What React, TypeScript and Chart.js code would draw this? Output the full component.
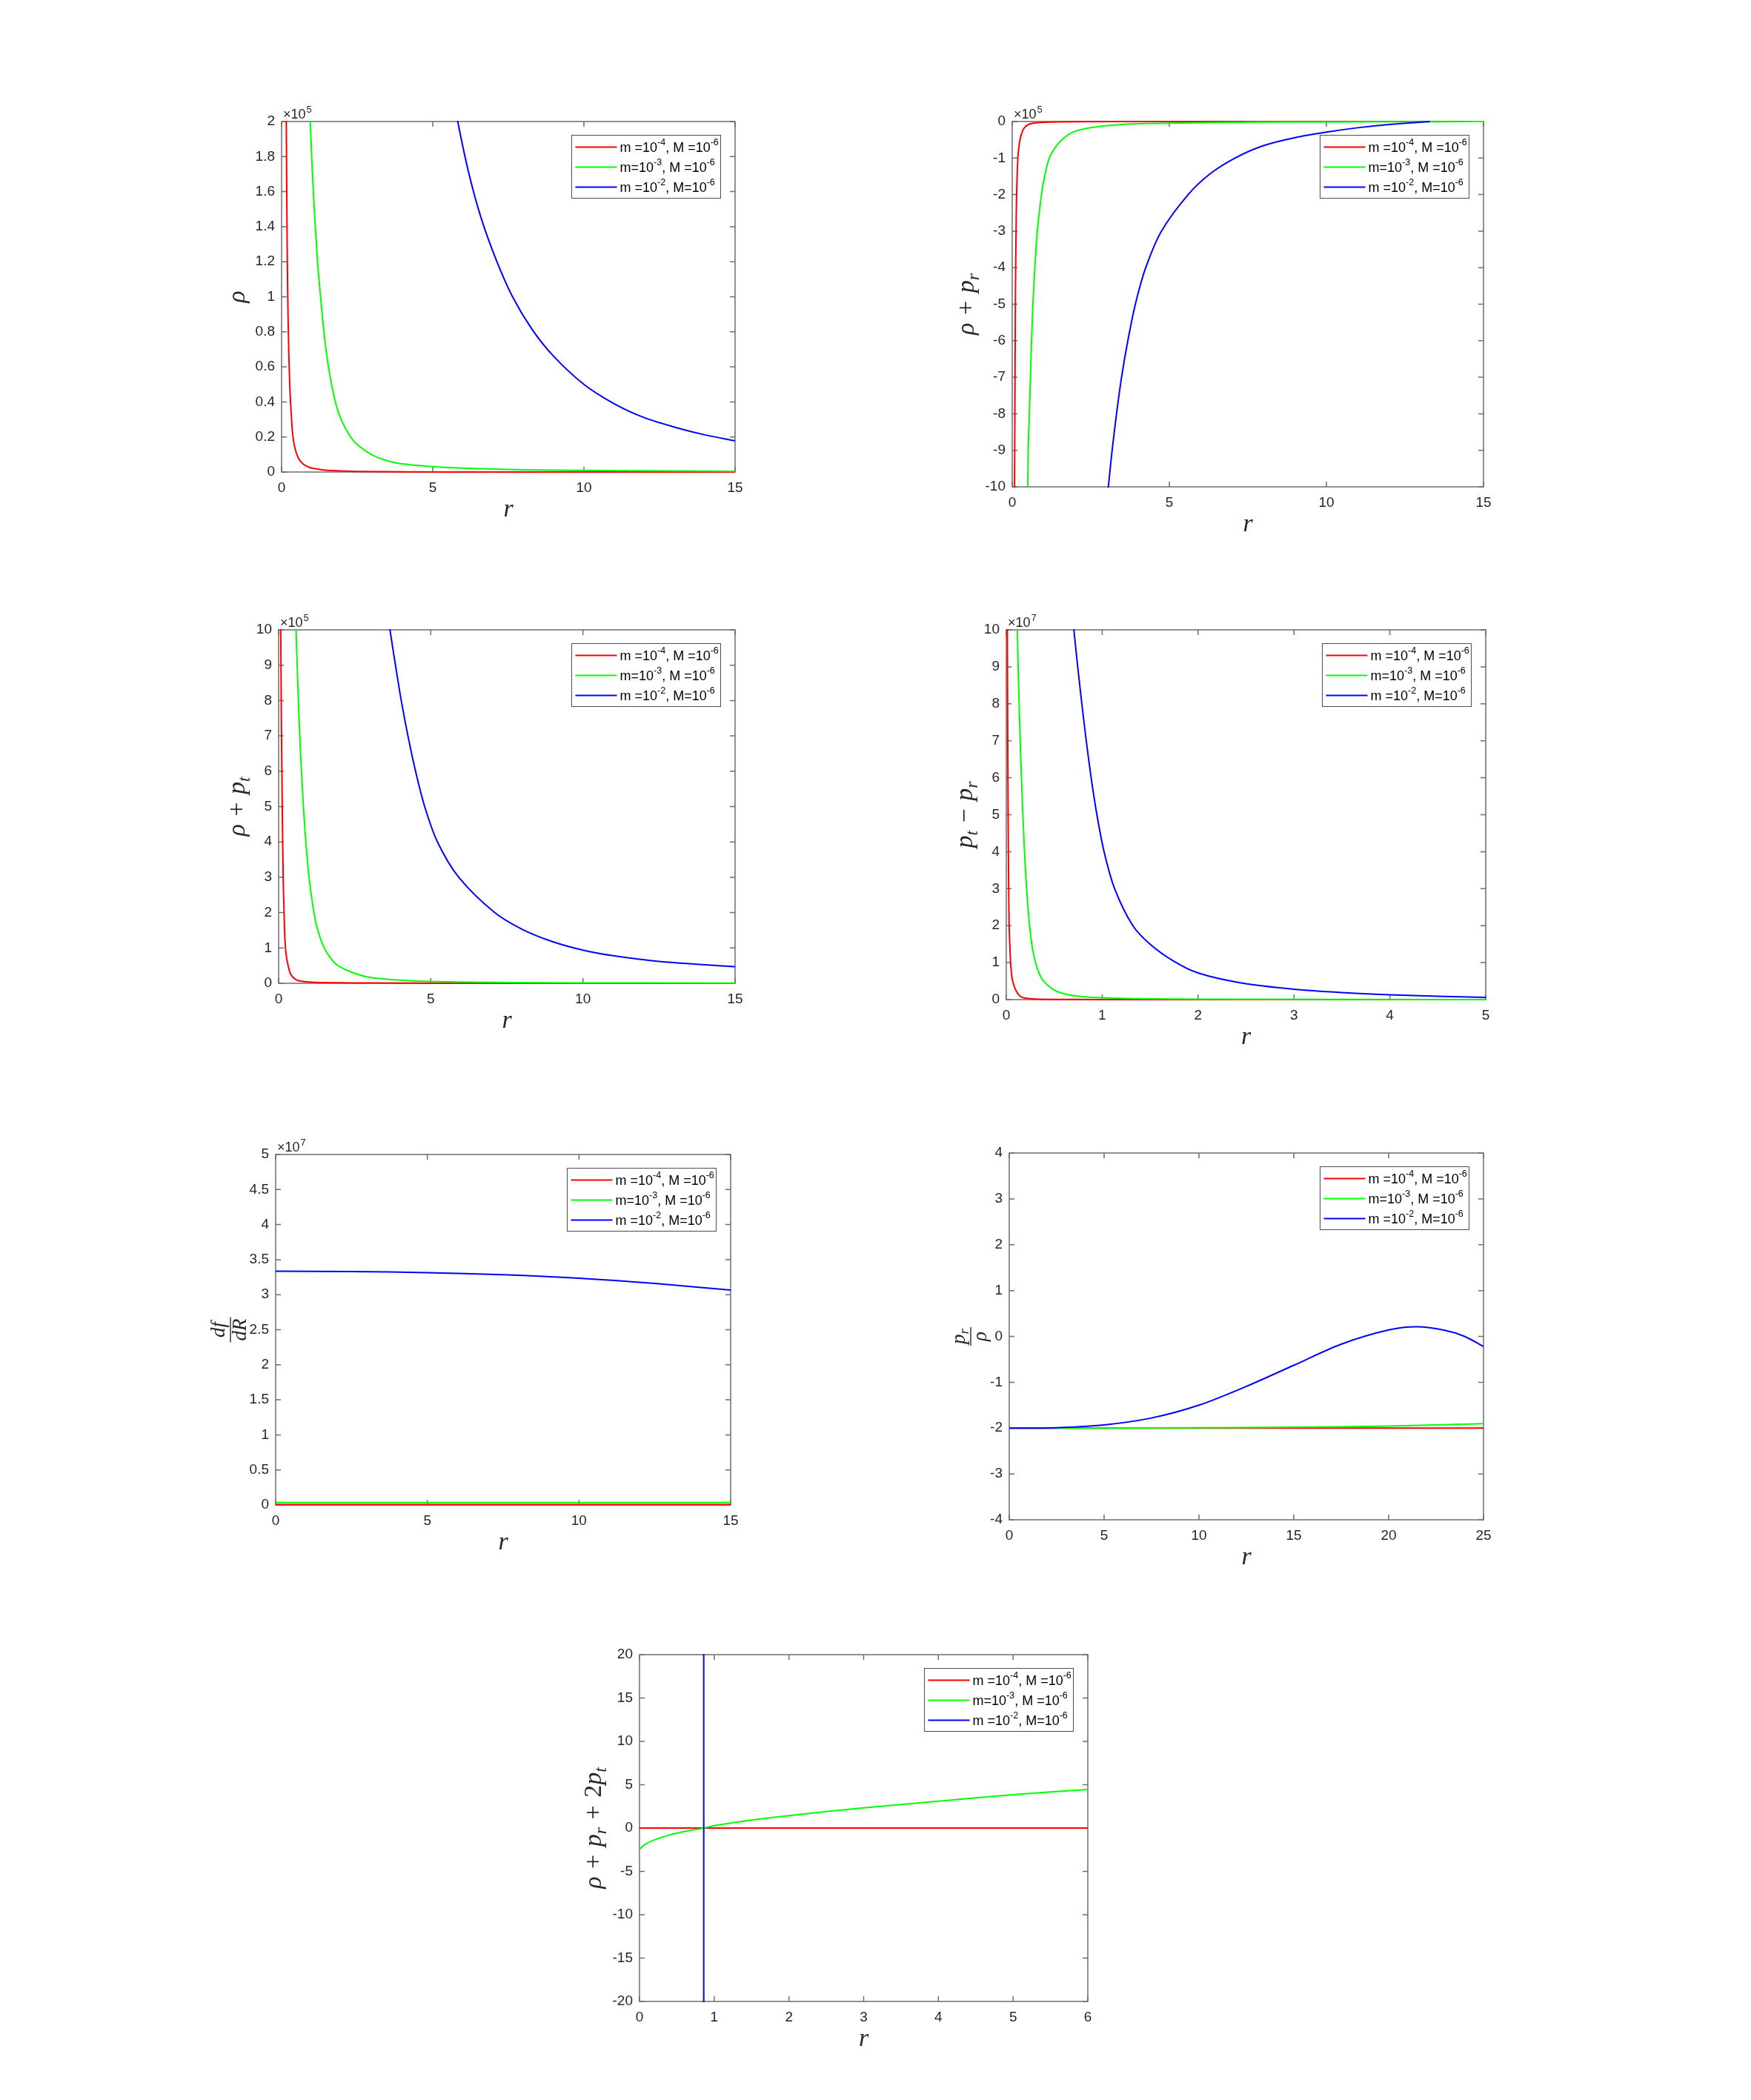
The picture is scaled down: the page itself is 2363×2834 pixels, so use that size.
import { useEffect, useRef } from 'react'
import { Chart, registerables } from 'chart.js'

Chart.register(...registerables)

type Pt = [number, number]

// ---- values (x = r, y in the axis' scaled units) ----

// rho (x10^5)
const rhoRed: Pt[] = [[0.12, 3.0], [0.155, 2.0], [0.18, 1.4], [0.2, 1.05], [0.23, 0.75], [0.27, 0.5], [0.32, 0.33], [0.37, 0.21], [0.45, 0.13], [0.57, 0.075], [0.7, 0.048], [0.87, 0.03], [1.0, 0.022], [1.34, 0.013], [1.7, 0.008], [2.5, 0.003], [4, 0.001], [7, 0.0003], [15, 0.0001]]
const rhoGreen: Pt[] = [[0.88, 2.5], [0.95, 2.0], [1.05, 1.6], [1.19, 1.2], [1.29, 1.0], [1.4, 0.8], [1.55, 0.6], [1.78, 0.4], [1.97, 0.3], [2.28, 0.2], [2.55, 0.15], [2.97, 0.1], [3.4, 0.07], [3.85, 0.05], [5, 0.031], [6, 0.022], [7, 0.017], [8, 0.013], [10, 0.009], [12.5, 0.006], [15, 0.004]]
const rhoBlue: Pt[] = [[5.5, 2.31], [5.85, 1.98], [6.2, 1.7], [6.6, 1.45], [7.1, 1.21], [7.64, 1.0], [8.3, 0.81], [9, 0.66], [10, 0.5], [11, 0.39], [12, 0.31], [13, 0.256], [14, 0.212], [15, 0.178]]

// rho + p_r (x10^5)
const rprRed: Pt[] = [[0.06, -12], [0.08, -9], [0.1, -5], [0.12, -3.2], [0.14, -2], [0.18, -1], [0.22, -0.65], [0.26, -0.45], [0.32, -0.28], [0.38, -0.18], [0.5, -0.09], [0.7, -0.04], [1.0, -0.02], [2, -0.005], [5, -0.001], [15, 0]]
const rprGreen: Pt[] = [[0.48, -11], [0.51, -9], [0.545, -8], [0.58, -7], [0.615, -6], [0.66, -5], [0.72, -4], [0.8, -3], [0.93, -2], [1.03, -1.5], [1.18, -1], [1.38, -0.7], [1.58, -0.5], [1.9, -0.3], [2.3, -0.2], [2.9, -0.12], [3.5, -0.08], [4.2, -0.058], [5, -0.045], [6.5, -0.025], [9, -0.012], [12, -0.005], [15, -0.002]]
const rprBlue: Pt[] = [[2.95, -11], [3.06, -10], [3.18, -9], [3.32, -8], [3.48, -7], [3.68, -6], [3.92, -5], [4.25, -4], [4.75, -3], [5.6, -2], [6.3, -1.43], [7.09, -1], [8, -0.66], [9, -0.44], [10, -0.29], [11, -0.17], [12, -0.08], [13.3, 0]]

// rho + p_t (x10^5)
const rptRed: Pt[] = [[0.05, 12], [0.07, 10], [0.09, 7.5], [0.12, 5], [0.15, 3], [0.18, 2], [0.21, 1.2], [0.25, 0.8], [0.3, 0.55], [0.4, 0.25], [0.57, 0.1], [0.8, 0.05], [1.2, 0.025], [3, 0.008], [6, 0.002], [15, 0.0005]]
const rptGreen: Pt[] = [[0.54, 11], [0.575, 10], [0.61, 9], [0.65, 8], [0.695, 7], [0.75, 6], [0.815, 5], [0.895, 4], [1.0, 3], [1.16, 2], [1.29, 1.5], [1.5, 1], [1.72, 0.7], [1.95, 0.5], [2.45, 0.3], [3, 0.17], [4, 0.09], [5, 0.05], [7, 0.025], [10, 0.012], [15, 0.005]]
const rptBlue: Pt[] = [[3.5, 11], [3.66, 10], [3.84, 9], [4.03, 8], [4.25, 7], [4.5, 6], [4.8, 5], [5.22, 4], [5.92, 3], [7.1, 2], [8, 1.53], [9, 1.18], [10, 0.94], [11, 0.78], [12.5, 0.62], [15, 0.47]]

// p_t - p_r (x10^7)
const ptrRed: Pt[] = [[0.008, 12], [0.011, 10], [0.015, 7], [0.019, 5], [0.024, 3.2], [0.03, 2], [0.038, 1.4], [0.045, 1], [0.055, 0.7], [0.067, 0.5], [0.1, 0.25], [0.15, 0.08], [0.2, 0.04], [0.3, 0.015], [0.5, 0.006], [1, 0.002], [5, 0]]
const ptrGreen: Pt[] = [[0.106, 11], [0.115, 10], [0.124, 9], [0.134, 8], [0.145, 7], [0.158, 6], [0.173, 5], [0.19, 4], [0.212, 3], [0.243, 2], [0.272, 1.4], [0.305, 1], [0.345, 0.7], [0.39, 0.5], [0.5, 0.26], [0.65, 0.13], [0.8, 0.08], [1, 0.05], [1.5, 0.02], [2, 0.01], [5, 0.002]]
const ptrBlue: Pt[] = [[0.67, 11], [0.705, 10], [0.745, 9], [0.788, 8], [0.834, 7], [0.885, 6], [0.945, 5], [1.02, 4], [1.13, 3], [1.32, 2], [1.5, 1.5], [1.74, 1.05], [2.0, 0.72], [2.45, 0.45], [3, 0.28], [3.5, 0.19], [4, 0.13], [4.5, 0.09], [5, 0.06]]

// df/dR (x10^7)
const dfRed: Pt[] = [[0, 0.005], [5, 0.005], [10, 0.005], [15, 0.005]]
const dfGreen: Pt[] = [[0, 0.035], [5, 0.035], [10, 0.035], [15, 0.035]]
const dfBlue: Pt[] = [[0, 3.335], [2.5, 3.33], [5, 3.315], [7.5, 3.285], [10, 3.235], [12.5, 3.16], [15, 3.065]]

// p_r / rho
const wRed: Pt[] = [[0, -2], [12.5, -2], [25, -2]]
const wGreen: Pt[] = [[0, -2], [5, -1.998], [10, -1.99], [15, -1.98], [20, -1.955], [25, -1.905]]
const wBlue: Pt[] = [[0, -2], [2.5, -1.99], [5, -1.93], [7.5, -1.78], [10, -1.5], [12.5, -1.09], [15, -0.63], [17.5, -0.17], [20, 0.14], [21.5, 0.21], [23, 0.13], [24, 0.0], [25, -0.22]]

// rho + p_r + 2 p_t
const secRed: Pt[] = [[0, 0], [3, 0], [6, 0]]
const secGreen: Pt[] = [[0, -2.45], [0.05, -2.05], [0.1, -1.77], [0.2, -1.36], [0.4, -0.8], [0.6, -0.4], [0.86, 0], [1, 0.27], [1.5, 0.92], [2, 1.44], [3, 2.32], [4, 3.1], [5, 3.85], [6, 4.45]]
const secBlue: Pt[] = [[0.86, -25], [0.86, 25]]

const legendRows = [
  { a: 'm =10', e1: '-4', b: ', M =10', e2: '-6' },
  { a: 'm=10', e1: '-3', b: ', M =10', e2: '-6' },
  { a: 'm =10', e1: '-2', b: ', M=10', e2: '-6' },
]

const COLORS = ['#ff0000', '#00ff00', '#0000ff']
const AXIS = '#6e6e6e'
const TEXT = '#262626'
const SANS = '"Liberation Sans", Arial, sans-serif'
const SERIF = '"Liberation Serif", "Times New Roman", serif'

type Seg = { t: string; it?: boolean; sub?: boolean; op?: boolean }
type Label = { segs: Seg[] } | { num: Seg[]; den: Seg[] }

interface Panel {
  box: [number, number, number, number]
  x: [number, number, number]
  y: [number, number, number]
  series: Pt[][]
  exp?: string
  ylabel: Label
  yOff: number
  ySize: number
  straight?: boolean[]
}

const rho: Seg = { t: 'ρ', it: true }
const p: Seg = { t: 'p', it: true }
const subR: Seg = { t: 'r', it: true, sub: true }
const subT: Seg = { t: 't', it: true, sub: true }
const plus: Seg = { t: '+', op: true }
const minus: Seg = { t: '−', op: true }

const panels: Panel[] = [
  { box: [380, 164, 992, 637], x: [0, 15, 5], y: [0, 2, 0.2], series: [rhoRed, rhoGreen, rhoBlue], exp: '5',
    ylabel: { segs: [rho] }, yOff: 50, ySize: 34 },
  { box: [1366, 164, 2002, 657], x: [0, 15, 5], y: [-10, 0, 1], series: [rprRed, rprGreen, rprBlue], exp: '5',
    ylabel: { segs: [rho, plus, p, subR] }, yOff: 52, ySize: 34 },
  { box: [376, 850, 992, 1327], x: [0, 15, 5], y: [0, 10, 1], series: [rptRed, rptGreen, rptBlue], exp: '5',
    ylabel: { segs: [rho, plus, p, subT] }, yOff: 46, ySize: 34 },
  { box: [1358, 850, 2005, 1349], x: [0, 5, 1], y: [0, 10, 1], series: [ptrRed, ptrGreen, ptrBlue], exp: '7',
    ylabel: { segs: [p, subT, minus, p, subR] }, yOff: 46, ySize: 34 },
  { box: [372, 1558, 986, 2031], x: [0, 15, 5], y: [0, 5, 0.5], series: [dfRed, dfGreen, dfBlue], exp: '7',
    ylabel: { num: [{ t: 'df', it: true }], den: [{ t: 'dR', it: true }] }, yOff: 61, ySize: 27 },
  { box: [1362, 1556, 2002, 2051], x: [0, 25, 5], y: [-4, 4, 1], series: [wRed, wGreen, wBlue],
    ylabel: { num: [p, subR], den: [rho] }, yOff: 52, ySize: 27 },
  { box: [863, 2233, 1468, 2701], x: [0, 6, 1], y: [-20, 20, 5], series: [secRed, secGreen, secBlue], straight: [false, false, true],
    ylabel: { segs: [rho, plus, p, subR, plus, { t: '2' }, p, subT] }, yOff: 52, ySize: 34 },
]

const PAD_L = 110
const PAD_T = 40
const PAD_R = 30
const PAD_B = 80

function segFont(s: Seg, size: number) {
  const sz = s.sub ? size * 0.7 : size
  return `${s.it ? 'italic ' : ''}${sz}px ${SERIF}`
}

function segWidth(ctx: CanvasRenderingContext2D, s: Seg, size: number) {
  ctx.font = segFont(s, size)
  return ctx.measureText(s.t).width + (s.op ? size * 0.62 : 0)
}

function segsWidth(ctx: CanvasRenderingContext2D, segs: Seg[], size: number) {
  return segs.reduce((w, s) => w + segWidth(ctx, s, size), 0)
}

function drawSegs(ctx: CanvasRenderingContext2D, segs: Seg[], x: number, y: number, size: number) {
  let cx = x
  for (const s of segs) {
    const w = segWidth(ctx, s, size)
    ctx.font = segFont(s, size)
    ctx.fillText(s.t, cx + (s.op ? size * 0.31 : 0), y + (s.sub ? size * 0.2 : 0))
    cx += w
  }
}

function makeFrame(pn: Panel) {
  return {
    id: 'matlabFrame',
    beforeDatasetsDraw(chart: any) {
      const { ctx, chartArea: a, scales } = chart
      const tick = 7
      ctx.save()
      ctx.strokeStyle = AXIS
      ctx.lineWidth = 1.5
      ctx.strokeRect(a.left, a.top, a.right - a.left, a.bottom - a.top)
      ctx.beginPath()
      for (const t of scales.x.ticks) {
        const px = scales.x.getPixelForValue(t.value)
        ctx.moveTo(px, a.bottom); ctx.lineTo(px, a.bottom - tick)
        ctx.moveTo(px, a.top); ctx.lineTo(px, a.top + tick)
      }
      for (const t of scales.y.ticks) {
        const py = scales.y.getPixelForValue(t.value)
        ctx.moveTo(a.left, py); ctx.lineTo(a.left + tick, py)
        ctx.moveTo(a.right, py); ctx.lineTo(a.right - tick, py)
      }
      ctx.stroke()
      ctx.restore()
    },
    afterDatasetsDraw(chart: any) {
      const { ctx, chartArea: a } = chart
      const bw = 201
      const bh = 85
      const bx = a.right - 19.5 - bw
      const by = a.top + 18.5
      ctx.save()
      ctx.fillStyle = '#ffffff'
      ctx.fillRect(bx, by, bw, bh)
      ctx.strokeStyle = '#4d4d4d'
      ctx.lineWidth = 1
      ctx.strokeRect(bx, by, bw, bh)
      legendRows.forEach((row, i) => {
        const cy = by + 16 + i * 27
        ctx.strokeStyle = COLORS[i]
        ctx.lineWidth = 2
        ctx.beginPath()
        ctx.moveTo(bx + 5, cy)
        ctx.lineTo(bx + 61, cy)
        ctx.stroke()
        ctx.fillStyle = '#000000'
        ctx.textBaseline = 'alphabetic'
        ctx.textAlign = 'left'
        const base = cy + 6.5
        let x = bx + 65
        const parts: [string, boolean][] = [[row.a, false], [row.e1, true], [row.b, false], [row.e2, true]]
        for (const [txt, sup] of parts) {
          ctx.font = `${sup ? 12.5 : 18}px ${SANS}`
          ctx.fillText(txt, x, sup ? base - 9 : base)
          x += ctx.measureText(txt).width
        }
      })
      ctx.restore()
    },
    afterDraw(chart: any) {
      const { ctx, chartArea: a } = chart
      ctx.save()
      ctx.fillStyle = TEXT
      ctx.textBaseline = 'alphabetic'
      ctx.textAlign = 'left'

      // x label
      ctx.font = `italic 34px ${SERIF}`
      const rw = ctx.measureText('r').width
      ctx.fillText('r', (a.left + a.right) / 2 - rw / 2, a.bottom + 60)

      // exponent
      if (pn.exp) {
        ctx.font = `18px ${SANS}`
        const bx = a.left + 2
        const by = a.top - 4
        ctx.fillText('×10', bx, by)
        const w = ctx.measureText('×10').width
        ctx.font = `13px ${SANS}`
        ctx.fillText(pn.exp, bx + w + 1, by - 8.5)
      }

      // y label, rotated
      const size = pn.ySize
      ctx.translate(a.left - pn.yOff, (a.top + a.bottom) / 2)
      ctx.rotate(-Math.PI / 2)
      const lab = pn.ylabel
      if ('num' in lab) {
        const wn = segsWidth(ctx, lab.num, size)
        const wd = segsWidth(ctx, lab.den, size)
        const w = Math.max(wn, wd) + size * 0.15
        ctx.fillRect(-w / 2, -0.7, w, 1.4)
        drawSegs(ctx, lab.num, -wn / 2, -0.3 * size, size)
        drawSegs(ctx, lab.den, -wd / 2, 0.78 * size, size)
      } else {
        const w = segsWidth(ctx, lab.segs, size)
        drawSegs(ctx, lab.segs, -w / 2, 0, size)
      }
      ctx.restore()
    },
  }
}

function fmt(v: number | string) {
  const n = Number(v)
  return String(Math.round(n * 100) / 100)
}

function PanelChart({ pn }: { pn: Panel }) {
  const ref = useRef<HTMLCanvasElement>(null)
  const [L, T, R, B] = pn.box
  const width = R - L + PAD_L + PAD_R
  const height = B - T + PAD_T + PAD_B

  useEffect(() => {
    if (!ref.current) return
    const tickFont = { family: SANS, size: 19 }
    const chart = new Chart(ref.current, {
      type: 'line',
      data: {
        datasets: pn.series.map((s, i) => ({
          data: s.map(([x, y]) => ({ x, y })),
          borderColor: COLORS[i],
          borderWidth: 2,
          pointRadius: 0,
          fill: false,
          order: 2 - i,
          clip: 1,
          tension: pn.straight && pn.straight[i] ? 0 : 0.3,
          capBezierPoints: false,
        })),
      },
      options: {
        animation: false,
        responsive: false,
        maintainAspectRatio: false,
        devicePixelRatio: 1,
        events: [],
        layout: { padding: { left: 0, top: PAD_T, right: PAD_R, bottom: 0 } },
        plugins: { legend: { display: false }, tooltip: { enabled: false } },
        scales: {
          x: {
            type: 'linear',
            min: pn.x[0],
            max: pn.x[1],
            ticks: { stepSize: pn.x[2], autoSkip: false, maxRotation: 0, font: tickFont, color: TEXT, padding: 10, callback: fmt },
            grid: { display: false, drawTicks: false },
            border: { display: false },
            afterFit: (s: any) => { s.height = PAD_B },
          },
          y: {
            type: 'linear',
            min: pn.y[0],
            max: pn.y[1],
            ticks: { stepSize: pn.y[2], autoSkip: false, font: tickFont, color: TEXT, padding: 9, callback: fmt },
            grid: { display: false, drawTicks: false },
            border: { display: false },
            afterFit: (s: any) => { s.width = PAD_L },
          },
        },
      } as any,
      plugins: [makeFrame(pn)],
    })
    return () => chart.destroy()
  }, [pn])

  return (
    <canvas
      ref={ref}
      width={width}
      height={height}
      style={{ position: 'absolute', left: L - PAD_L, top: T - PAD_T, width, height }}
    />
  )
}

export default function App() {
  return (
    <div style={{ position: 'absolute', left: 0, top: 0, width: 2363, height: 2834, background: '#ffffff', overflow: 'hidden' }}>
      {panels.map((pn, i) => (
        <PanelChart key={i} pn={pn} />
      ))}
    </div>
  )
}
